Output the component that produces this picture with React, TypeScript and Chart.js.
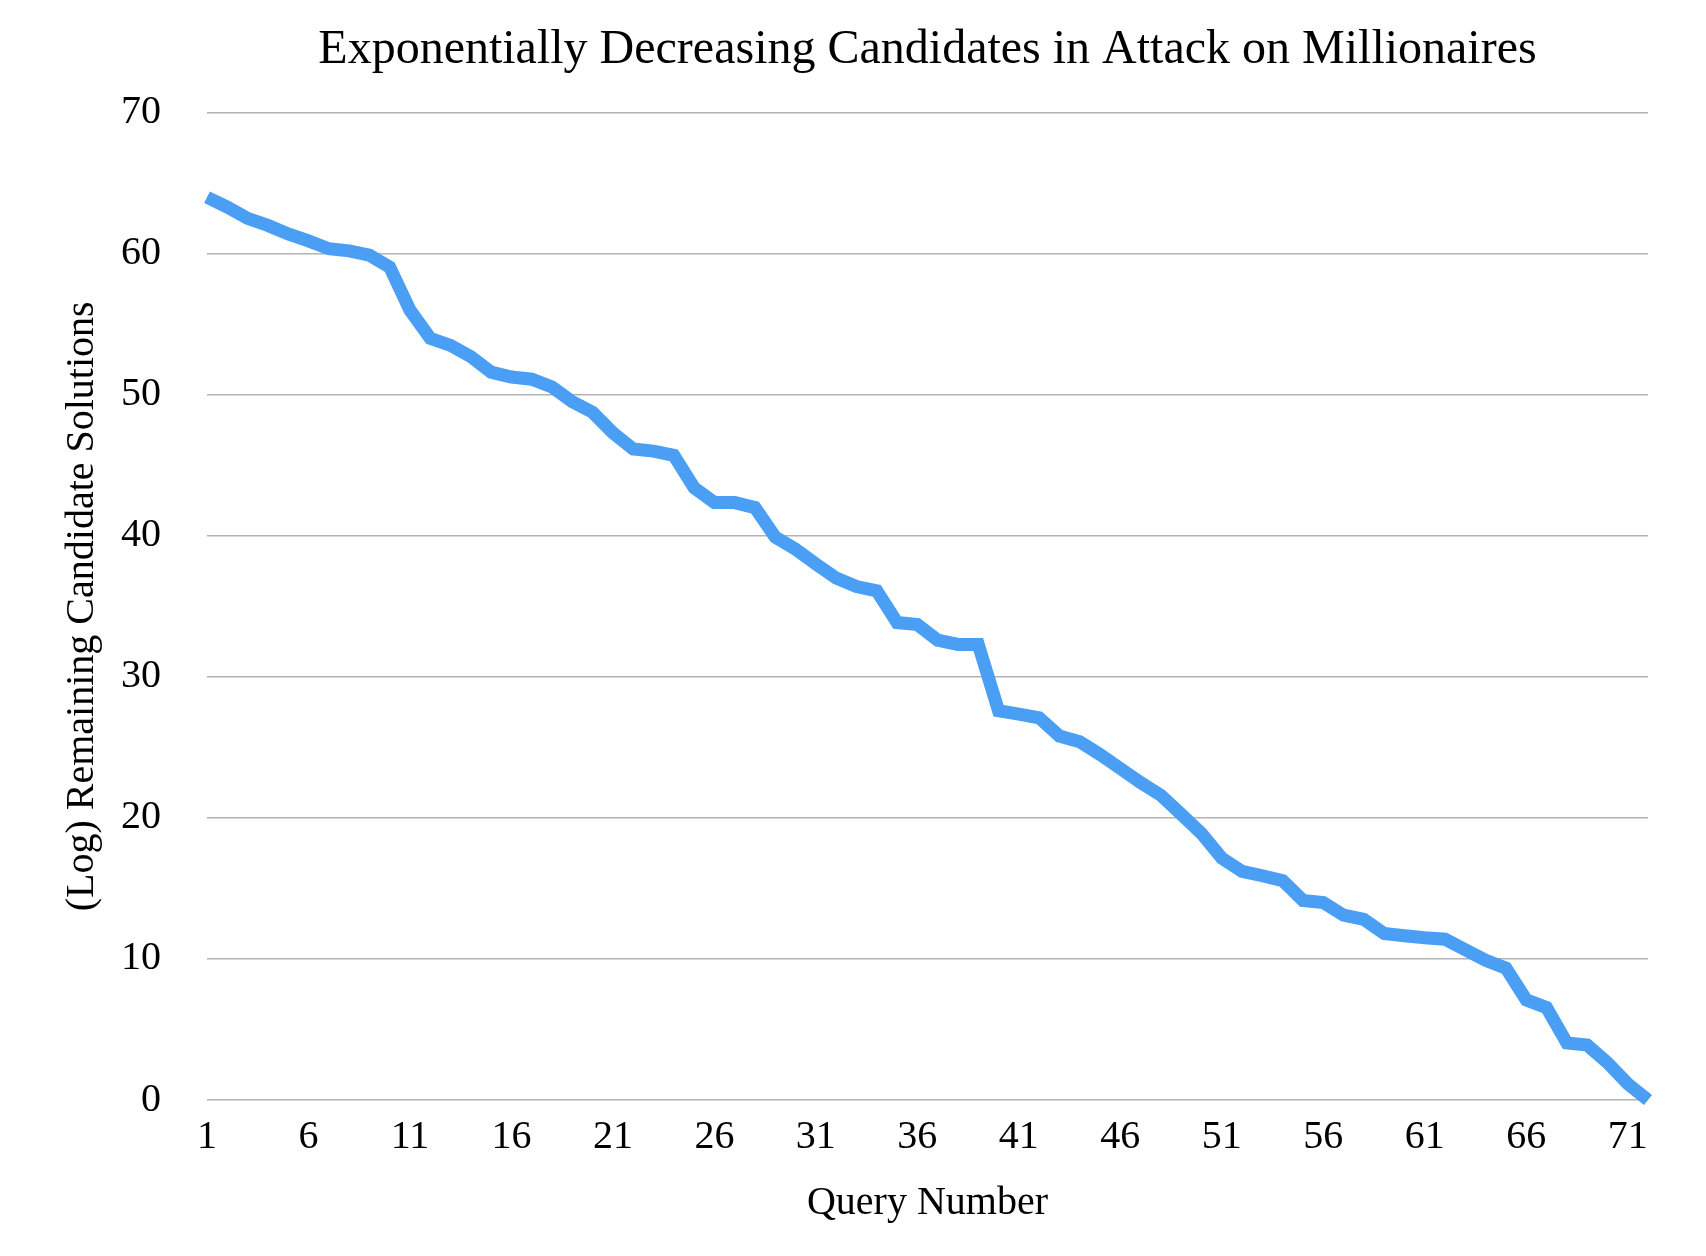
import { useEffect, useRef } from "react"
import { Chart, registerables } from "chart.js"

Chart.register(...registerables)

const queryNumbers = [
  1, 2, 3, 4, 5, 6, 7, 8, 9, 10, 11, 12, 13, 14, 15, 16, 17, 18, 19, 20, 21, 22, 23, 24,
  25, 26, 27, 28, 29, 30, 31, 32, 33, 34, 35, 36, 37, 38, 39, 40, 41, 42, 43, 44, 45, 46, 47, 48,
  49, 50, 51, 52, 53, 54, 55, 56, 57, 58, 59, 60, 61, 62, 63, 64, 65, 66, 67, 68, 69, 70, 71, 72,
]

const remainingCandidates = [
  64.0, 63.3, 62.5, 62.0, 61.4, 60.9, 60.35, 60.2, 59.9, 59.05, 56.0, 54.0, 53.5, 52.7, 51.6, 51.25,
  51.1, 50.55, 49.5, 48.75, 47.3, 46.15, 46.0, 45.7, 43.4, 42.35, 42.35, 42.0, 39.9, 39.05, 38.0, 37.0,
  36.4, 36.1, 33.85, 33.7, 32.6, 32.3, 32.3, 27.6, 27.35, 27.1, 25.8, 25.4, 24.5, 23.5, 22.5, 21.6,
  20.25, 18.9, 17.15, 16.2, 15.9, 15.55, 14.15, 14.0, 13.1, 12.8, 11.8, 11.65, 11.5, 11.4, 10.65, 9.9,
  9.35, 7.1, 6.55, 4.05, 3.9, 2.65, 1.15, 0,
]

const FONT = "'Liberation Serif', 'Times New Roman', serif"

export default function App() {
  const chartRef = useRef<HTMLCanvasElement>(null)
  const chartInstance = useRef<Chart | null>(null)

  useEffect(() => {
    document.body.style.margin = "0"
    if (!chartRef.current) return
    if (chartInstance.current) chartInstance.current.destroy()

    const ctx = chartRef.current.getContext("2d")
    if (!ctx) return

    chartInstance.current = new Chart(ctx, {
      type: "line",
      data: {
        labels: queryNumbers.map(String),
        datasets: [
          {
            label: "(Log) Remaining Candidate Solutions",
            data: remainingCandidates,
            borderColor: "#4a9ff5",
            backgroundColor: "#4a9ff5",
            borderWidth: 13,
            pointRadius: 0,
            tension: 0,
            clip: false,
          },
        ],
      },
      options: {
        responsive: false,
        animation: false,
        layout: { padding: { top: 1, right: 58, bottom: 0, left: 0 } },
        scales: {
          x: {
            // ticks are used only as spacing, so keep them invisible
            grid: { color: "transparent", drawTicks: true, tickLength: 13, tickColor: "transparent" },
            border: { display: false },
            ticks: {
              autoSkip: false,
              maxRotation: 0,
              padding: 0,
              color: "#000",
              font: { family: FONT, size: 40 },
              callback: (_v, i) => (i % 5 === 0 ? String(queryNumbers[i]) : ""),
            },
            title: {
              display: true,
              text: "Query Number",
              color: "#000",
              font: { family: FONT, size: 40 },
              padding: { top: 18, bottom: 29 },
            },
          },
          y: {
            min: 0,
            max: 70,
            grid: { color: "#b3b3b3", lineWidth: 1.5, drawTicks: true, tickLength: 46, tickColor: "transparent" },
            border: { display: false },
            ticks: {
              stepSize: 10,
              padding: 0,
              color: "#000",
              font: { family: FONT, size: 40 },
            },
            title: {
              display: true,
              text: "(Log) Remaining Candidate Solutions",
              color: "#000",
              font: { family: FONT, size: 40 },
              padding: { top: 58, bottom: 15 },
            },
          },
        },
        plugins: {
          legend: { display: false },
          tooltip: { enabled: false },
          title: {
            display: true,
            fullSize: false,
            text: "Exponentially Decreasing Candidates in Attack on Millionaires",
            color: "#000",
            font: { family: FONT, size: 48, weight: "normal" },
            padding: { top: 21, bottom: 33 },
          },
        },
      },
    })

    return () => {
      if (chartInstance.current) {
        chartInstance.current.destroy()
        chartInstance.current = null
      }
    }
  }, [])

  return (
    <canvas
      ref={chartRef}
      width={1706}
      height={1256}
      style={{ display: "block", width: 1706, height: 1256 }}
    />
  )
}
